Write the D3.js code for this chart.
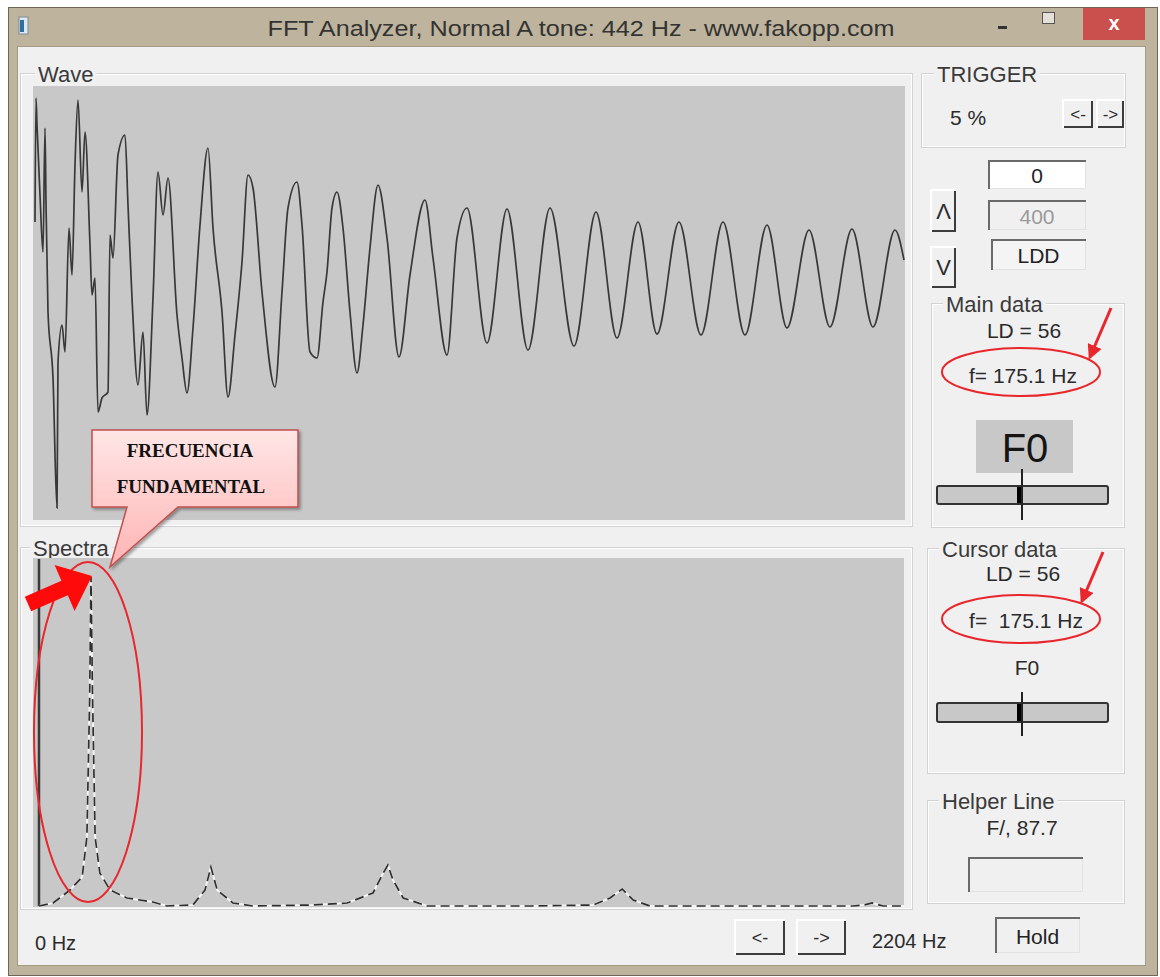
<!DOCTYPE html>
<html>
<head>
<meta charset="utf-8">
<script src="https://cdn.jsdelivr.net/npm/d3@7"></script>
<style>
  body { margin: 0; background: #ffffff; }
  text { font-family: "Liberation Sans", Arial, sans-serif; fill: #2b2b2b; }
</style>
</head>
<body>
<svg id="app" width="1160" height="977"></svg>
<script>
// wave trace: sample index and amplitude
var waveT = [0, 0.5, 1, 2.5, 4, 5, 5.5, 6.5, 9, 11, 11.5, 13.5, 15, 17, 18.5, 20, 21.5, 23.5, 25, 27.5,
    28.5, 30, 31.5, 33.5, 36.5, 37.5, 39, 41.5, 45, 46.5, 48.5, 51.5, 54, 56, 59, 61.5, 64, 66.5, 71, 73.5,
    76, 79, 82.5, 86.5, 89, 93.5, 96.5, 100, 103.5, 106.5, 109, 113.5, 120, 123.5, 126.5, 131, 133.5, 137.5, 141, 144,
    146, 148.5, 151, 154, 157.5, 161, 164, 167.5, 171.5, 176, 182, 187.5, 195, 199, 206, 211, 216, 226, 236, 246.5,
    257.5, 269.5, 280.5, 291, 301.5, 311, 322, 333, 344, 355, 366, 376, 387, 397.5, 408.5, 419, 430, 434.5];
var waveA = [81, 205, 178, 108, 51, 175, 101, -9, -75, -205, -59, -22, -49, 75, 28, 138, 203, 111, 171, 58,
    8, 25, -109, -95, -89, 68, 45, 148, 168, 98, 5, -82, -29, -112, 5, 131, 88, 125, -12, -55,
    -90, -25, 78, 155, 75, -9, -94, -32, 41, 128, 115, 11, -84, 11, 95, 121, 78, -49, -55, 1,
    31, 95, 111, 75, -9, -70, -22, 55, 118, 65, -54, 28, 103, 45, -52, 65, 95, -40, 94, -47,
    95, -43, 91, -35, 81, -31, 81, -32, 81, -32, 78, -25, 73, -24, 74, -24, 73, 43];

// spectrum: frequency (Hz) and magnitude
var specHz = [0, 36, 79, 110, 122, 129, 132.5, 136, 143, 155, 181, 224, 290, 326, 392, 423, 438, 454, 494, 545,
    698, 785, 851, 877, 889, 902, 928, 989, 1256, 1412, 1455, 1486, 1514, 1557, 2074, 2102, 2123, 2151, 2204];
var specAmp = [0, 3, 16, 29, 69, 206, 329, 219, 69, 33, 16, 8, 4, 0, 1, 16, 39, 16, 3, 0,
    1, 3, 13, 33, 41, 26, 8, 0, 0, 1, 8, 17, 6, 0, 0, 1, 3, 0, 0];

var titleText = "FFT Analyzer, Normal A tone: 442 Hz - www.fakopp.com";
var mainData = ["LD = 56", "f= 175.1 Hz", "F0"];
var cursorData = ["LD = 56", "f=  175.1 Hz", "F0"];
var helperText = "F/, 87.7";
var triggerText = "5 %";
var boxValues = ["0", "400", "LDD"];

var svg = d3.select("#app");
var defs = svg.append("defs");

var grad = defs.append("linearGradient").attr("id", "pink").attr("x1", 0).attr("y1", 0).attr("x2", 0).attr("y2", 1);
grad.append("stop").attr("offset", "0%").attr("stop-color", "#ffe6e6");
grad.append("stop").attr("offset", "100%").attr("stop-color", "#ffb4b4");

defs.append("filter").attr("id", "shadow").attr("x", "-10%").attr("y", "-10%").attr("width", "130%").attr("height", "130%")
    .append("feDropShadow").attr("dx", 2).attr("dy", 2).attr("stdDeviation", 1.5).attr("flood-opacity", 0.35);

defs.append("marker").attr("id", "redhead").attr("viewBox", "0 0 10 10").attr("refX", 8).attr("refY", 5)
    .attr("markerWidth", 5).attr("markerHeight", 5).attr("orient", "auto")
    .append("path").attr("d", "M0,0 L10,5 L0,10 Z").attr("fill", "#e8262b");

defs.append("clipPath").attr("id", "waveClip").append("rect")
    .attr("x", 33).attr("y", 86).attr("width", 872).attr("height", 434);
defs.append("clipPath").attr("id", "specClip").append("rect")
    .attr("x", 33).attr("y", 558).attr("width", 871).attr("height", 349);

// window frame
svg.append("rect").attr("x", 8.5).attr("y", 7.5).attr("width", 1149).attr("height", 968)
    .attr("fill", "#beb39c").attr("stroke", "#6f6656");
svg.append("rect").attr("x", 17.5).attr("y", 46.5).attr("width", 1128).attr("height", 919)
    .attr("fill", "#f0f0f0").attr("stroke", "#a59a84");

// title bar
svg.append("rect").attr("x", 19).attr("y", 17).attr("width", 9).attr("height", 17).attr("fill", "#dfe8ef").attr("stroke", "#7a8c99");
svg.append("rect").attr("x", 20).attr("y", 20).attr("width", 4).attr("height", 12).attr("fill", "#2f6f9f");
svg.append("text").attr("x", 581).attr("y", 28).attr("text-anchor", "middle").attr("dominant-baseline", "central")
    .attr("font-size", 22).attr("textLength", 627).attr("lengthAdjust", "spacingAndGlyphs").style("fill", "#333")
    .text(titleText);
svg.append("rect").attr("x", 998).attr("y", 26).attr("width", 9).attr("height", 3).attr("fill", "#333");
svg.append("rect").attr("x", 1042.5).attr("y", 12.5).attr("width", 12).attr("height", 11).attr("fill", "#e4e0d8").attr("stroke", "#555");
svg.append("rect").attr("x", 1083).attr("y", 8).attr("width", 62).attr("height", 32).attr("fill", "#c9504c");
svg.append("text").attr("x", 1114).attr("y", 23).attr("text-anchor", "middle").attr("dominant-baseline", "central")
    .attr("font-size", 20).attr("font-weight", "bold").style("fill", "#fff").text("x");

function groupBox(x, y, w, h, label, lx) {
    var g = svg.append("g");
    g.append("rect").attr("x", x + 0.5).attr("y", y + 0.5).attr("width", w).attr("height", h)
        .attr("fill", "none").attr("stroke", "#d2d2d2");
    g.append("rect").attr("x", x + 1.5).attr("y", y + 1.5).attr("width", w - 2).attr("height", h - 2)
        .attr("fill", "none").attr("stroke", "#ffffff");
    var t = g.append("text").attr("x", lx).attr("y", y + 1).attr("dominant-baseline", "central")
        .attr("font-size", 22).style("fill", "#3a3a3a").text(label);
    var bw = t.node().getComputedTextLength();
    g.insert("rect", "text").attr("x", lx - 3).attr("y", y - 4).attr("width", bw + 6).attr("height", 8).attr("fill", "#f0f0f0");
}

function button(x, y, w, h, label, fs) {
    var g = svg.append("g");
    g.append("rect").attr("x", x).attr("y", y).attr("width", w).attr("height", h).attr("fill", "#f0f0f0");
    g.append("path").attr("d", "M" + x + "," + (y + h) + " V" + y + " H" + (x + w))
        .attr("fill", "none").attr("stroke", "#ffffff").attr("stroke-width", 2);
    g.append("path").attr("d", "M" + (x + 1) + "," + (y + h - 1) + " H" + (x + w - 1) + " V" + (y + 1))
        .attr("fill", "none").attr("stroke", "#3c3c3c").attr("stroke-width", 2);
    g.append("text").attr("x", x + w / 2).attr("y", y + h / 2).attr("text-anchor", "middle")
        .attr("dominant-baseline", "central").attr("font-size", fs).text(label);
}

function sunken(x, y, w, h, fill, label, color) {
    var g = svg.append("g");
    g.append("rect").attr("x", x).attr("y", y).attr("width", w).attr("height", h).attr("fill", fill);
    g.append("path").attr("d", "M" + (x + 1) + "," + (y + h) + " V" + (y + 1) + " H" + (x + w))
        .attr("fill", "none").attr("stroke", "#6a6a6a").attr("stroke-width", 2);
    g.append("path").attr("d", "M" + (x + 2) + "," + (y + h - 0.5) + " H" + (x + w - 0.5) + " V" + (y + 2))
        .attr("fill", "none").attr("stroke", "#e2e2e2").attr("stroke-width", 1);
    if (label) {
        g.append("text").attr("x", x + w / 2).attr("y", y + h / 2 + 1).attr("text-anchor", "middle")
            .attr("dominant-baseline", "central").attr("font-size", 21).style("fill", color).text(label);
    }
}

function centerText(x, y, s, fs) {
    return svg.append("text").attr("x", x).attr("y", y).attr("text-anchor", "middle")
        .attr("dominant-baseline", "central").attr("font-size", fs || 21).style("white-space", "pre").text(s);
}

function slider(y, h, lineTop, lineBottom) {
    svg.append("rect").attr("x", 937).attr("y", y).attr("width", 171).attr("height", h).attr("rx", 2)
        .attr("fill", "#c8c8c8").attr("stroke", "#333").attr("stroke-width", 2);
    svg.append("rect").attr("x", 1017).attr("y", y + 1).attr("width", 6).attr("height", h - 2).attr("fill", "#000");
    svg.append("line").attr("x1", 1022).attr("x2", 1022).attr("y1", lineTop).attr("y2", lineBottom)
        .attr("stroke", "#222").attr("stroke-width", 2);
}

// ---- Wave panel
groupBox(20, 73, 892, 453, "Wave", 38);
svg.append("rect").attr("x", 33).attr("y", 86).attr("width", 872).attr("height", 434).attr("fill", "#c8c8c8");

var xWave = d3.scaleLinear().domain([0, 434.5]).range([35, 904]);
var yWave = d3.scaleLinear().domain([-217, 217]).range([520, 86]);

var waveLine = d3.line()
    .x(function(d, i) { return xWave(waveT[i]); })
    .y(function(d, i) { return yWave(waveA[i]); })
    .curve(d3.curveMonotoneX);

svg.append("path").datum(waveT).attr("clip-path", "url(#waveClip)")
    .attr("d", waveLine).attr("fill", "none").attr("stroke", "#383838").attr("stroke-width", 1.7);

// ---- Spectra panel
groupBox(20, 547, 892, 362, "Spectra", 33);
svg.append("rect").attr("x", 33).attr("y", 558).attr("width", 871).attr("height", 349).attr("fill", "#c8c8c8");

var xSpec = d3.scaleLinear().domain([0, 2204]).range([39, 904]);
var ySpec = d3.scaleLinear().domain([0, 349]).range([906, 557]);

svg.append("line").attr("x1", xSpec(0)).attr("x2", xSpec(0)).attr("y1", ySpec(0)).attr("y2", 559)
    .attr("stroke", "#3a3a3a").attr("stroke-width", 2.5);

var specLine = d3.line()
    .x(function(d, i) { return xSpec(specHz[i]); })
    .y(function(d, i) { return ySpec(specAmp[i]); });

var specG = svg.append("g").attr("clip-path", "url(#specClip)");
specG.append("path").datum(specHz).attr("d", specLine).attr("fill", "none")
    .attr("stroke", "#f4f4f4").attr("stroke-width", 2);
specG.append("path").datum(specHz).attr("d", specLine).attr("fill", "none")
    .attr("stroke", "#2e2e2e").attr("stroke-width", 1.7).attr("stroke-dasharray", "9,5");

// bottom row
svg.append("text").attr("x", 35).attr("y", 943).attr("dominant-baseline", "central").attr("font-size", 20)
    .text(xSpec.domain()[0] + " Hz");
button(735, 920, 50, 35, "<-", 18);
button(797, 920, 49, 35, "->", 18);
svg.append("text").attr("x", 872).attr("y", 941).attr("dominant-baseline", "central").attr("font-size", 20)
    .text(xSpec.domain()[1] + " Hz");
sunken(995, 917, 85, 36, "#f0f0f0", "Hold", "#222");

// ---- right side controls
groupBox(921, 73, 204, 74, "TRIGGER", 937);
svg.append("text").attr("x", 950).attr("y", 117).attr("dominant-baseline", "central").attr("font-size", 21).text(triggerText);
button(1063, 100, 30, 28, "<-", 17);
button(1097, 100, 27, 28, "->", 17);

sunken(988, 160, 98, 29, "#ffffff", boxValues[0], "#222");
sunken(988, 200, 98, 30, "#f0f0f0", boxValues[1], "#9a9a9a");
sunken(991, 239, 95, 31, "#f4f4f4", boxValues[2], "#222");
button(931, 190, 25, 42, "\u039B", 22);
button(931, 247, 25, 41, "V", 22);

groupBox(931, 303, 193, 224, "Main data", 946);
centerText(1024, 330, mainData[0]);
centerText(1023, 375, mainData[1]);
svg.append("rect").attr("x", 976).attr("y", 420).attr("width", 97).attr("height", 53).attr("fill", "#c8c8c8");
centerText(1025, 448, mainData[2], 40).style("fill", "#151515");
slider(486, 18, 469, 520);

groupBox(927, 548, 197, 225, "Cursor data", 942);
centerText(1023, 573, cursorData[0]);
centerText(1026, 620, cursorData[1]);
centerText(1027, 667, cursorData[2]);
slider(703, 19, 692, 736);

groupBox(927, 800, 197, 103, "Helper Line", 942);
centerText(1022, 827, helperText);
sunken(968, 857, 115, 35, "#f0f0f0", "", "#222");

// ---- red annotations
svg.append("ellipse").attr("cx", 1021).attr("cy", 372).attr("rx", 79).attr("ry", 24)
    .attr("fill", "none").attr("stroke", "#e8262b").attr("stroke-width", 2);
svg.append("ellipse").attr("cx", 1021).attr("cy", 619).attr("rx", 79).attr("ry", 24)
    .attr("fill", "none").attr("stroke", "#e8262b").attr("stroke-width", 2);
svg.append("line").attr("x1", 1111).attr("y1", 308).attr("x2", 1090).attr("y2", 357)
    .attr("stroke", "#e8262b").attr("stroke-width", 3).attr("marker-end", "url(#redhead)");
svg.append("line").attr("x1", 1103).attr("y1", 552).attr("x2", 1082).attr("y2", 601)
    .attr("stroke", "#e8262b").attr("stroke-width", 3).attr("marker-end", "url(#redhead)");

svg.append("ellipse").attr("cx", 88).attr("cy", 732).attr("rx", 54).attr("ry", 170)
    .attr("fill", "none").attr("stroke", "#e8262b").attr("stroke-width", 2);
svg.append("polygon")
    .attr("points", "24.8,596.7 61.4,580.7 54.6,565 92,576 74.6,610.9 67.8,595.3 31.2,611.3")
    .attr("fill", "#ff0a0a");

// callout
svg.append("path").attr("d", "M92,430 H298 V507 H178 L110,567 L127,507 H92 Z")
    .attr("fill", "url(#pink)").attr("stroke", "#c0504d").attr("stroke-width", 1.5).attr("filter", "url(#shadow)");
svg.append("text").attr("x", 190).attr("y", 450).attr("text-anchor", "middle").attr("dominant-baseline", "central")
    .attr("font-size", 19).attr("font-weight", "bold").style("font-family", "'Liberation Serif', 'Times New Roman', serif")
    .style("fill", "#111").text("FRECUENCIA");
svg.append("text").attr("x", 191).attr("y", 486).attr("text-anchor", "middle").attr("dominant-baseline", "central")
    .attr("font-size", 19).attr("font-weight", "bold").style("font-family", "'Liberation Serif', 'Times New Roman', serif")
    .style("fill", "#111").text("FUNDAMENTAL");
</script>
</body>
</html>
